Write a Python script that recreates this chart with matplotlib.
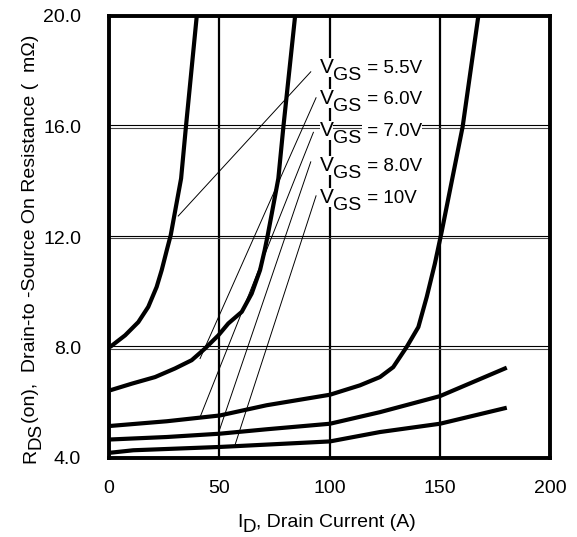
import numpy as np
import matplotlib.pyplot as plt
from matplotlib.transforms import offset_copy, IdentityTransform

plt.rcParams['font.family'] = ['Liberation Sans', 'DejaVu Sans']

# curves: drain current (A) vs RDS(on) (mOhm)
id_55 = [0.5, 7.3, 13.3, 17.8, 21.6, 23.9, 26.2, 28, 32.7, 34.9, 39.8]
r_55 = [8.02, 8.44, 8.92, 9.47, 10.19, 10.8, 11.52, 12.07, 14.12, 16.0, 20.0]

id_60 = [0.5, 10.3, 20.9, 29.9, 37.5, 43.5, 49.6, 54.1, 60.2, 64.7, 68.5,
         70.6, 72.0, 76.8, 79.1, 84.4]
r_60 = [6.45, 6.69, 6.93, 7.24, 7.54, 7.96, 8.44, 8.87, 9.29, 9.95, 10.8,
        11.52, 12.07, 14.12, 16.0, 20.0]

id_70 = [0.5, 26.2, 50.3, 71.5, 100.2, 113.8, 122.9, 128.9, 135.0, 140.3,
         144.1, 147.8, 150.9, 160.4, 167.5]
r_70 = [5.16, 5.33, 5.54, 5.91, 6.29, 6.63, 6.93, 7.29, 8.02, 8.74,
        9.83, 11.04, 12.2, 16.0, 20.0]

id_80 = [0.5, 26.2, 50.3, 71.5, 100.2, 122.9, 150.1, 180.4]
r_80 = [4.67, 4.76, 4.88, 5.04, 5.24, 5.66, 6.24, 7.27]

id_10 = [0.5, 11, 50.3, 100.2, 122.9, 150.1, 180.4]
r_10 = [4.19, 4.28, 4.40, 4.60, 4.94, 5.24, 5.82]

curves = [(id_55, r_55), (id_60, r_60), (id_70, r_70), (id_80, r_80), (id_10, r_10)]

labels = ['5.5V', '6.0V', '7.0V', '8.0V', '10V']
label_y = [17.93, 16.8, 15.65, 14.4, 13.22]
label_x = 95.5
# leader lines: (start at label, end on curve)
lead_from = [(91.5, 17.98), (93.9, 17.04), (92.7, 15.79), (91.5, 14.72), (93.9, 13.49)]
lead_to = [(31.4, 12.76), (41.3, 7.6), (41.3, 5.48), (50.3, 5.06), (57.1, 4.46)]

xticks = [0, 50, 100, 150, 200]
yticks = [4.0, 8.0, 12.0, 16.0, 20.0]

fig = plt.figure(figsize=(5.77, 5.37), dpi=100)
ax = fig.add_axes([109/577, 79/537, 441/577, 442/537])
ax.set_xlim(0, 200)
ax.set_ylim(4, 20)
renderer = fig.canvas.get_renderer()


def chain_text(target, x, y, trans, pieces, rot=0, **kw):
    # draw text pieces one after another; drop moves a piece below the baseline
    pos = 0.0
    for s, size, drop in pieces:
        if rot == 0:
            t = offset_copy(trans, fig=fig, x=pos, y=-drop, units='dots')
        else:
            t = offset_copy(trans, fig=fig, x=drop, y=pos, units='dots')
        txt = target.text(x, y, s, transform=t, fontsize=size, rotation=rot,
                          rotation_mode='anchor', ha='left', va='baseline', **kw)
        bb = txt.get_window_extent(renderer)
        pos += bb.width if rot == 0 else bb.height


# grid: single vertical lines, doubled horizontal lines
for xv in xticks[1:-1]:
    ax.axvline(xv, color='black', lw=1.6, zorder=1)
for yv in yticks[1:-1]:
    ax.axhline(yv + 0.045, color='black', lw=0.8, zorder=1)
    ax.axhline(yv - 0.045, color='#444444', lw=0.8, zorder=1)

for (xs, ys) in curves:
    ax.plot(xs, ys, color='black', lw=3.0, solid_joinstyle='round',
            solid_capstyle='butt', zorder=4)

for (a, b) in zip(lead_from, lead_to):
    ax.plot([a[0], b[0]], [a[1], b[1]], color='black', lw=0.7, zorder=3)

box = dict(facecolor='white', edgecolor='none', pad=0)
for lab, yv in zip(labels, label_y):
    chain_text(ax, label_x, yv, ax.transData,
               [('V', 15, 0), ('GS', 14, 7), (' = ' + lab, 13.5, 0)],
               zorder=5, bbox=box)

for s in ax.spines.values():
    s.set_linewidth(2.8)
    s.set_zorder(6)

ax.set_xticks(xticks)
ax.set_xticklabels([str(v) for v in xticks])
ax.set_yticks(yticks)
ax.set_yticklabels(['%.1f' % v for v in yticks])
ax.tick_params(length=0, labelsize=14)
ax.tick_params(axis='x', pad=16)
ax.tick_params(axis='y', pad=20)

# axis titles with full-size subscripts, positioned in pixels
chain_text(fig, 237, 537 - 527, IdentityTransform(),
           [('I', 14, 0), ('D', 13.5, 5), (', Drain Current (A)', 14, 0)])
chain_text(fig, 35, 537 - 463, IdentityTransform(),
           [('R', 14, 0), ('DS', 13.5, 5),
            ('(on),  Drain-to -Source On Resistance (  m\u03a9)', 14, 0)],
           rot=90)

fig.savefig('out.png', dpi=100)
